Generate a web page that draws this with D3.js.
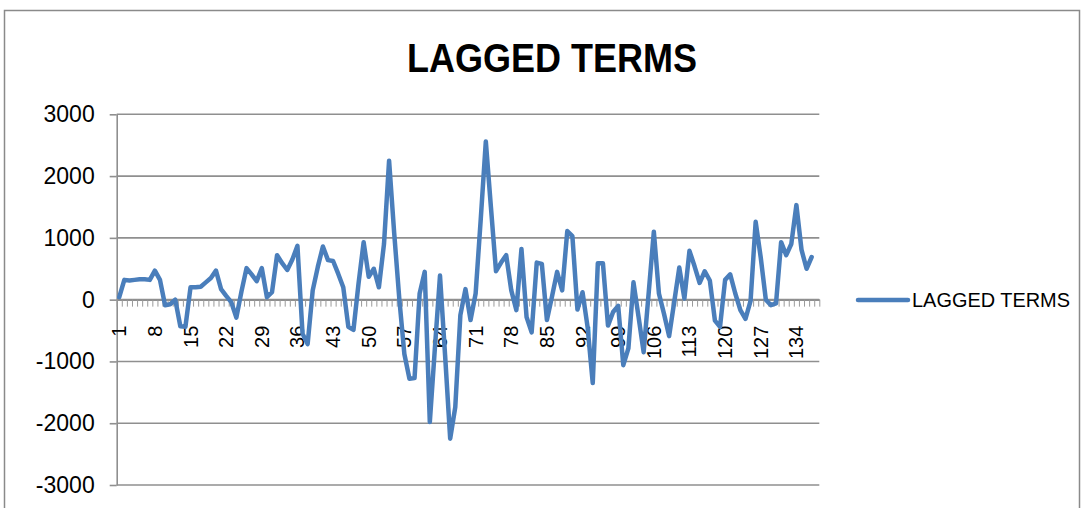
<!DOCTYPE html>
<html>
<head>
<meta charset="utf-8">
<script src="https://cdn.jsdelivr.net/npm/d3@7"></script>
<style>
  html, body { margin: 0; padding: 0; background: #fff; }
  svg { display: block; }
</style>
</head>
<body>
<div id="chart"></div>
<script>
const width = 1084;
const height = 508;

// categories 1..138 (the last category has no value)
const categories = d3.range(1, 139);
const series = "LAGGED TERMS";
const values = [
  40, 320, 310, 320, 330, 330, 320, 470, 320, -90,
  -75, 0, -430, -440, 200, 200, 210, 280, 350, 470,
  170, 60, -40, -290, 130, 510, 410, 300, 510, 40,
  120, 720, 590, 480, 650, 870, -550, -720, 150, 530,
  860, 640, 625, 420, 200, -440, -490, 260, 930, 370,
  500, 200, 900, 2250, 1080, 20, -880, -1280, -1270, 100,
  450, -1980, -780, 390, -900, -2250, -1740, -250, 170, -330,
  100, 1300, 2560, 1500, 460, 600, 720, 150, -170, 820,
  -280, -530, 600, 580, -330, 50, 450, 150, 1110, 1030,
  -160, 120, -450, -1350, 590, 590, -420, -200, -100, -1060,
  -790, 280, -280, -850, 120, 1100, 100, -230, -590, -40,
  520, 20, 790, 540, 270, 460, 310, -340, -440, 320,
  410, 100, -170, -310, -20, 1260, 680, 0, -90, -60,
  930, 720, 900, 1530, 810, 500, 690
];
const yTicks = [-3000, -2000, -1000, 0, 1000, 2000, 3000];
const xTickLabels = categories.filter((d, i) => i % 7 === 0);

const gridColor = "#8f8f8f";
const lineColor = "#4a7ebb";

const svg = d3.select("#chart")
  .append("svg")
  .attr("width", width)
  .attr("height", height)
  .style("font-family", "'Liberation Sans', Arial, sans-serif");

// outer chart frame
svg.append("rect")
  .attr("x", 4.5)
  .attr("y", 10.5)
  .attr("width", 1075)
  .attr("height", 520)
  .attr("fill", "#fff")
  .attr("stroke", "#8a8a8a")
  .attr("stroke-width", 1.5);

const plotLeft = 116.7, plotRight = 819.3;

const x = d3.scaleBand()
  .domain(categories)
  .range([plotLeft, plotRight]);

const xEdge = d3.scaleLinear()
  .domain([0, categories.length])
  .range([plotLeft, plotRight]);

const y = d3.scaleLinear()
  .domain([-3000, 3000])
  .range([485, 114.3]);

// y axis
const yAxis = svg.append("g")
  .attr("transform", `translate(${plotLeft},0)`)
  .call(d3.axisLeft(y)
    .tickValues(yTicks)
    .tickFormat(d => String(d))
    .tickSize(7)
    .tickSizeOuter(0)
    .tickPadding(15));

yAxis.select(".domain").attr("stroke", gridColor).attr("stroke-width", 1.6);
yAxis.selectAll(".tick line").attr("stroke", gridColor).attr("stroke-width", 1.6);
yAxis.selectAll(".tick text")
  .attr("fill", "#000")
  .style("font-size", "23px");

// horizontal gridlines
svg.append("g")
  .selectAll("line")
  .data(yTicks)
  .join("line")
  .attr("x1", plotLeft)
  .attr("x2", plotRight)
  .attr("y1", d => y(d))
  .attr("y2", d => y(d))
  .attr("stroke", gridColor)
  .attr("stroke-width", 1.6);

// category axis at zero
const xAxisTicks = svg.append("g")
  .attr("transform", `translate(0,${y(0)})`)
  .call(d3.axisBottom(xEdge)
    .tickValues(d3.range(0, categories.length + 1))
    .tickFormat("")
    .tickSize(7)
    .tickSizeOuter(0));
xAxisTicks.select(".domain").attr("stroke", gridColor).attr("stroke-width", 1.6);
xAxisTicks.selectAll(".tick line").attr("stroke", "#9a9a9a").attr("stroke-width", 1);

const xAxisLabels = svg.append("g")
  .attr("transform", `translate(0,${y(0)})`)
  .call(d3.axisBottom(x).tickValues(xTickLabels).tickSize(0));
xAxisLabels.select(".domain").remove();
xAxisLabels.selectAll(".tick text")
  .attr("transform", "rotate(-90)")
  .attr("x", -26)
  .attr("y", 0)
  .attr("dy", "0.35em")
  .attr("fill", "#000")
  .style("text-anchor", "end")
  .style("font-size", "20px");

// the series line
const line = d3.line()
  .x((d, i) => x(categories[i]) + x.bandwidth() / 2)
  .y(d => y(d));

svg.append("path")
  .datum(values)
  .attr("fill", "none")
  .attr("stroke", lineColor)
  .attr("stroke-width", 4.5)
  .attr("stroke-linejoin", "round")
  .attr("stroke-linecap", "round")
  .attr("d", line);

// title
svg.append("text")
  .attr("x", 552)
  .attr("y", 72)
  .attr("text-anchor", "middle")
  .attr("textLength", 290)
  .attr("lengthAdjust", "spacingAndGlyphs")
  .style("font-size", "41px")
  .style("font-weight", "bold")
  .text(series);

// legend
const legend = svg.append("g").attr("transform", "translate(858,300)");
legend.append("line")
  .attr("x1", 0)
  .attr("x2", 50)
  .attr("stroke", lineColor)
  .attr("stroke-width", 4.5)
  .attr("stroke-linecap", "round");
legend.append("text")
  .attr("x", 54)
  .attr("y", 7)
  .attr("textLength", 158)
  .attr("lengthAdjust", "spacingAndGlyphs")
  .style("font-size", "20px")
  .text(series);
</script>
</body>
</html>
